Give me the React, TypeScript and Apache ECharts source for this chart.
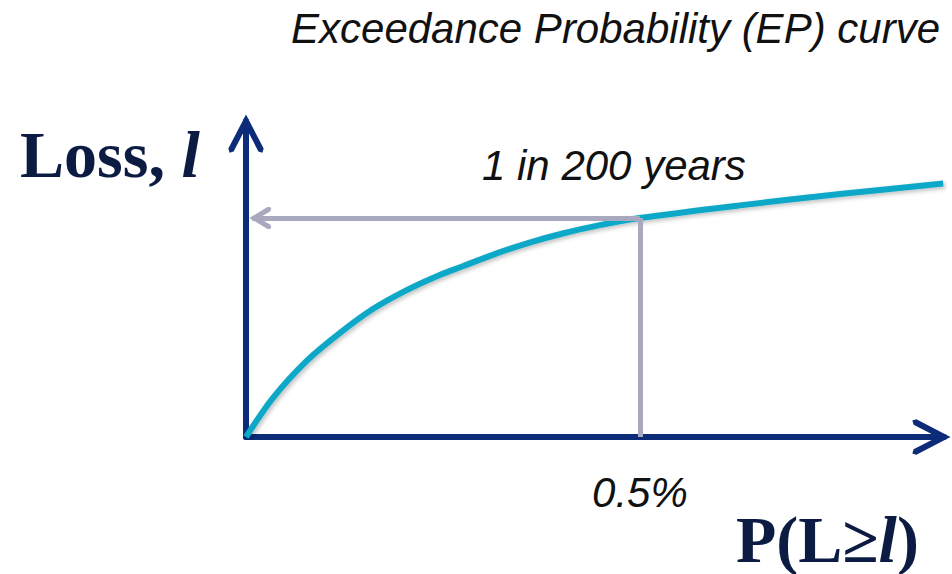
import React, { useEffect, useRef } from 'react';
import * as echarts from 'echarts';

// Exceedance probability (%) against loss (schematic units)
const probability = [0, 0.034, 0.077, 0.119, 0.161, 0.204, 0.246, 0.276, 0.319, 0.361, 0.402, 0.446, 0.5, 0.627, 0.754, 0.885];
const loss = [0, 12.3, 24.1, 32.9, 40.5, 46.5, 51.3, 54.1, 58.2, 61.6, 64.4, 66.9, 69.3, 73.3, 76.9, 80.2];

// 1-in-200-year return period
const returnProbability = 0.5;
const returnLoss = 69.3;
const xTickValues = [0.5];

const titleText = 'Exceedance Probability (EP) curve';
const returnText = '1 in 200 years';

const NAVY = '#0C2C7A';
const TEAL = '#0AA8C8';
const GREY = '#A8A8BE';
const INK = '#0B1B42';

// open chevron heads (pointing up in local space)
const AXIS_HEAD = 'path://M0,-6.5L17.66,27.62L16.4,31.7L12.34,30.38L0,6.5L-12.34,30.38L-16.4,31.7L-17.66,27.62Z';
const GREY_HEAD = 'path://M0,-4.86L11.14,13.71L10.29,17.14L6.86,16.29L0,4.86L-6.86,16.29L-10.29,17.14L-11.14,13.71Z';

const serif = '"Liberation Serif", "Times New Roman", serif';
const sans = '"Liberation Sans", Arial, sans-serif';

export default function App() {
  const ref = useRef<HTMLDivElement>(null);

  useEffect(() => {
    const chart = echarts.init(ref.current!, null, { renderer: 'svg' });

    const axisLine = {
      show: true,
      onZero: false,
      symbol: ['none', AXIS_HEAD],
      symbolSize: [35.32, 38.2],
      symbolOffset: [0, -12.6],
      lineStyle: { color: NAVY, width: 6, cap: 'round' },
    };

    const option: any = {
      animation: false,
      backgroundColor: '#ffffff',
      title: {
        text: titleText,
        right: 12,
        top: 7,
        padding: 0,
        textStyle: {
          fontFamily: sans,
          fontStyle: 'italic',
          fontWeight: 'normal',
          fontSize: 42,
          color: '#111111',
        },
      },
      grid: {
        left: 246,
        right: 8,
        top: 121,
        bottom: 137,
        outerBoundsMode: 'none',
      },
      xAxis: {
        type: 'value',
        min: 0,
        max: 0.886,
        z: 2,
        splitLine: { show: false },
        axisTick: { show: false },
        axisLine,
        axisLabel: {
          show: true,
          customValues: xTickValues,
          formatter: (v: number) => (xTickValues.includes(v) ? `${v}%` : ''),
          margin: 34,
          fontFamily: sans,
          fontStyle: 'italic',
          fontSize: 42,
          color: '#111111',
        },
      },
      yAxis: {
        type: 'value',
        min: 0,
        max: 100,
        z: 2,
        splitLine: { show: false },
        axisTick: { show: false },
        axisLabel: { show: false },
        axisLine,
      },
      series: [
        {
          type: 'line',
          name: 'reference',
          data: [],
          z: 1,
          silent: true,
          markLine: {
            silent: true,
            symbol: 'none',
            label: { show: false },
            lineStyle: { color: GREY, width: 5, type: 'solid' },
            data: [
              [
                { coord: [returnProbability, returnLoss], symbol: 'none' },
                {
                  coord: [0.008, returnLoss],
                  symbol: GREY_HEAD,
                  symbolSize: [22.28, 22],
                  symbolOffset: [0, 8],
                  symbolKeepAspect: true,
                },
              ],
              [
                { coord: [returnProbability, 0], symbol: 'none' },
                { coord: [returnProbability, returnLoss], symbol: 'none' },
              ],
            ],
          },
          itemStyle: { color: GREY },
        },
        {
          type: 'line',
          name: 'EP curve',
          z: 3,
          data: probability.map((p, i) => [p, loss[i]]),
          smooth: 0.3,
          showSymbol: false,
          symbol: 'none',
          lineStyle: {
            color: TEAL,
            width: 6,
            shadowColor: 'rgba(0,0,0,0.25)',
            shadowBlur: 4,
            shadowOffsetX: 2,
            shadowOffsetY: 2,
          },
          itemStyle: { color: TEAL },
        },
      ],
      graphic: [
        {
          type: 'text',
          x: 20,
          y: 154,
          style: {
            text: '{r|Loss, }{i|l}',
            align: 'left',
            verticalAlign: 'middle',
            rich: {
              r: { fontFamily: serif, fontWeight: 'bold', fontSize: 66, fill: INK },
              i: { fontFamily: serif, fontWeight: 'bold', fontStyle: 'italic', fontSize: 66, fill: INK },
            },
          },
        },
        {
          type: 'text',
          x: 736,
          y: 539,
          style: {
            text: '{r|P(L≥}{i|l}{r|)}',
            align: 'left',
            verticalAlign: 'middle',
            rich: {
              r: { fontFamily: serif, fontWeight: 'bold', fontSize: 66, fill: INK },
              i: { fontFamily: serif, fontWeight: 'bold', fontStyle: 'italic', fontSize: 66, fill: INK },
            },
          },
        },
        {
          type: 'text',
          x: 482,
          y: 165,
          style: {
            text: returnText,
            align: 'left',
            verticalAlign: 'middle',
            fontFamily: sans,
            fontStyle: 'italic',
            fontSize: 42,
            fill: '#111111',
          },
        },
      ],
    };

    chart.setOption(option);
    return () => chart.dispose();
  }, []);

  return (
    <div
      ref={ref}
      style={{ position: 'fixed', left: 0, top: 0, width: 952, height: 574 }}
    />
  );
}
